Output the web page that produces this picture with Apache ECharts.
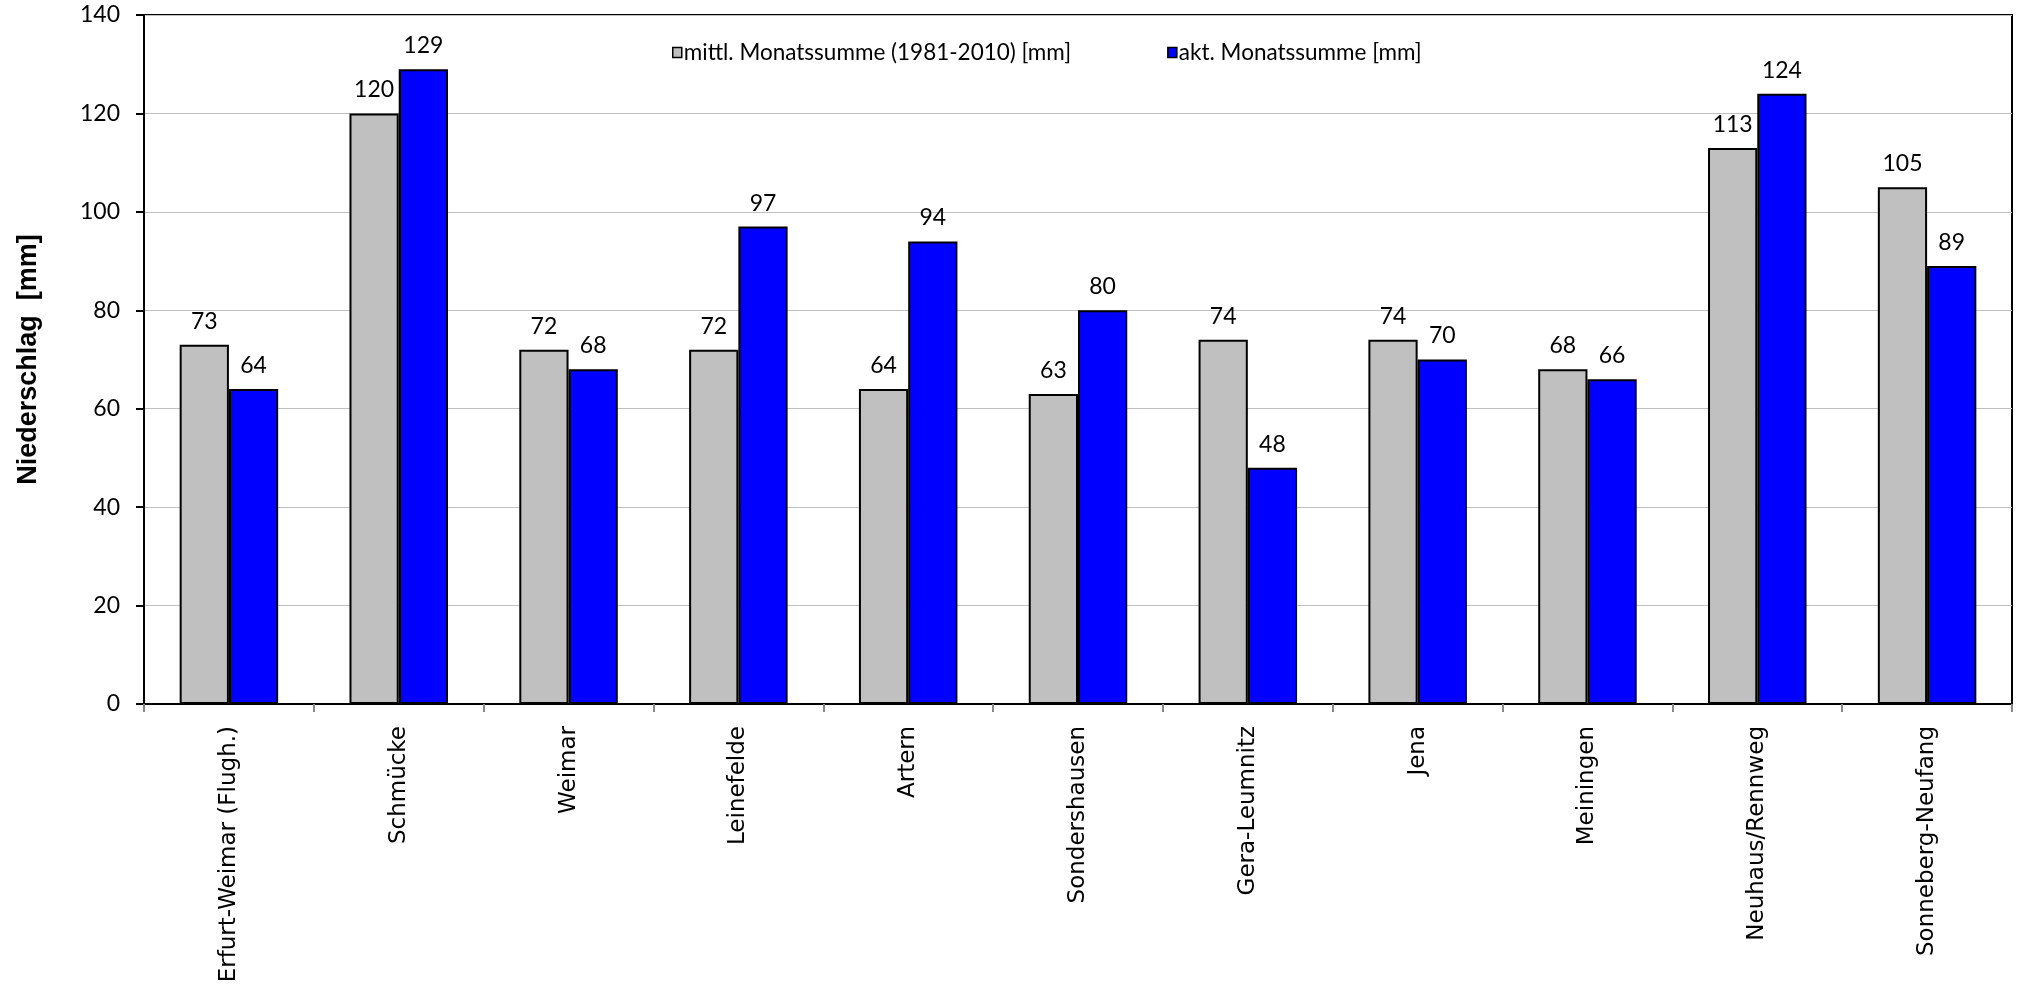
<!DOCTYPE html>
<html>
<head>
<meta charset="utf-8">
<script src="https://cdn.jsdelivr.net/npm/echarts@6/dist/echarts.min.js"></script>
<style>
  html, body { margin: 0; padding: 0; background: #fff; }
  #chart { width: 2017px; height: 989px; }
</style>
</head>
<body>
<div id="chart"></div>
<script>
// Stations
const stations = [
  'Erfurt-Weimar (Flugh.)', 'Schmücke', 'Weimar', 'Leinefelde', 'Artern',
  'Sondershausen', 'Gera-Leumnitz', 'Jena', 'Meiningen', 'Neuhaus/Rennweg',
  'Sonneberg-Neufang'
];
// Long-term mean monthly precipitation 1981-2010 [mm]
const meanSum = [73, 120, 72, 72, 64, 63, 74, 74, 68, 113, 105];
// Current monthly precipitation [mm]
const currentSum = [64, 129, 68, 97, 94, 80, 48, 70, 66, 124, 89];

const seriesNames = ['mittl. Monatssumme (1981-2010) [mm]', 'akt. Monatssumme [mm]'];
const yAxisTitle = 'Niederschlag  [mm]';

const font = 'Lato';
const chart = echarts.init(document.getElementById('chart'), null, { renderer: 'canvas' });

const labelStyle = {
  show: true,
  position: 'top',
  distance: 12,
  fontFamily: font,
  fontSize: 23,
  color: '#000'
};

chart.setOption({
  animation: false,
  backgroundColor: '#fff',
  grid: {
    left: 144, right: 5, top: 15, bottom: 285,
    show: true, borderColor: '#000', borderWidth: 2, backgroundColor: 'transparent'
  },
  legend: {
    left: 667, top: 36,
    itemWidth: 9, itemHeight: 10, itemGap: 96,
    textStyle: { fontFamily: font, fontSize: 22.5, color: '#000', padding: [0, 0, 0, -3] },
    data: seriesNames.map((n, i) => ({
      name: n,
      icon: 'rect',
      itemStyle: { color: i === 0 ? '#c0c0c0' : '#0000ff', borderColor: '#000', borderWidth: 1.5 }
    }))
  },
  xAxis: {
    type: 'category',
    data: stations,
    axisLine: { lineStyle: { color: '#000', width: 2 } },
    axisTick: { show: true, length: 8, lineStyle: { color: '#888', width: 2 } },
    axisLabel: {
      rotate: 90, margin: 22, interval: 0,
      fontFamily: 'DejaVu Sans', fontSize: 23, color: '#000'
    }
  },
  yAxis: {
    type: 'value',
    min: 0, max: 140, interval: 20,
    name: yAxisTitle,
    nameLocation: 'middle',
    nameGap: 102,
    nameTextStyle: { fontFamily: 'Liberation Sans', fontWeight: 'bold', fontSize: 27, color: '#000' },
    axisLine: { show: true, lineStyle: { color: '#000', width: 2 } },
    axisTick: { show: true, length: 8, lineStyle: { color: '#000', width: 2 } },
    axisLabel: { margin: 24, fontFamily: font, fontSize: 23, color: '#000' },
    splitLine: { lineStyle: { color: '#c0c0c0', width: 1 } }
  },
  series: [
    {
      name: seriesNames[0],
      type: 'bar',
      data: meanSum,
      barGap: '0%',
      barCategoryGap: '42%',
      itemStyle: { color: '#c0c0c0', borderColor: '#000', borderWidth: 2 },
      label: labelStyle
    },
    {
      name: seriesNames[1],
      type: 'bar',
      data: currentSum,
      itemStyle: { color: '#0000ff', borderColor: '#000', borderWidth: 2 },
      label: labelStyle
    }
  ]
});
</script>
</body>
</html>
